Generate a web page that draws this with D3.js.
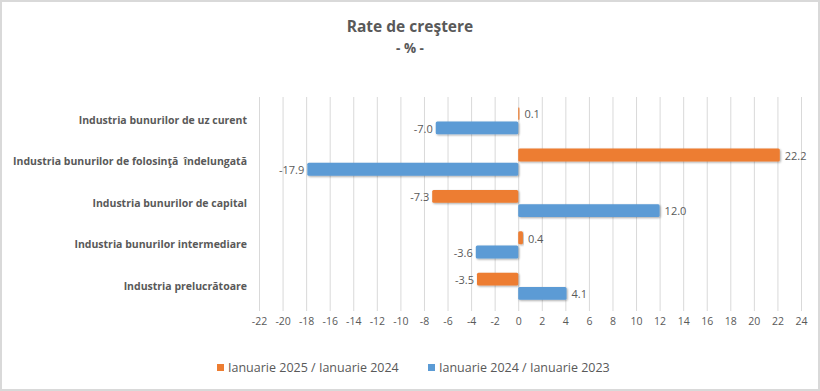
<!DOCTYPE html>
<html>
<head>
<meta charset="utf-8">
<script src="https://cdn.jsdelivr.net/npm/d3@7"></script>
<style>
  html, body { margin: 0; padding: 0; background: #fff; }
  svg { display: block; }
  text { white-space: pre; }
</style>
</head>
<body>
<svg id="chart" width="820" height="391"></svg>
<script>
const categories = [
  "Industria bunurilor de uz curent",
  "Industria bunurilor de folosinţă  îndelungată",
  "Industria bunurilor de capital",
  "Industria bunurilor intermediare",
  "Industria prelucrătoare"
];
const seriesNames = ["Ianuarie 2025 / Ianuarie 2024", "Ianuarie 2024 / Ianuarie 2023"];
const jan2025 = [0.1, 22.2, -7.3, 0.4, -3.5];
const jan2024 = [-7.0, -17.9, 12.0, -3.6, 4.1];
const xTicks = [-22,-20,-18,-16,-14,-12,-10,-8,-6,-4,-2,0,2,4,6,8,10,12,14,16,18,20,22,24];
const colors = ["#ED7D31", "#5B9BD5"];

const svg = d3.select("#chart");
const textColor = "#595959";
const font = "'Open Sans', sans-serif";
const fmt = v => d3.format(".1f")(v).replace("\u2212", "-");

// border
svg.append("rect").attr("x", 1).attr("y", 1).attr("width", 818).attr("height", 389)
  .attr("fill", "#fff").attr("stroke", "#d9d9d9").attr("stroke-width", 2);

// shadow filter
const defs = svg.append("defs");
const f = defs.append("filter").attr("id", "sh").attr("x", "-10%").attr("y", "-30%").attr("width", "120%").attr("height", "170%");
f.append("feGaussianBlur").attr("in", "SourceAlpha").attr("stdDeviation", 1.2).attr("result", "b");
f.append("feOffset").attr("in", "b").attr("dx", 0.8).attr("dy", 1.2).attr("result", "o");
f.append("feComponentTransfer").attr("in", "o").attr("result", "o2")
  .append("feFuncA").attr("type", "linear").attr("slope", 0.35);
const m = f.append("feMerge");
m.append("feMergeNode").attr("in", "o2");
m.append("feMergeNode").attr("in", "SourceGraphic");

const x = d3.scaleLinear().domain([-22, 24]).range([259, 801]);
const y = d3.scaleBand().domain(categories).range([100, 307]);
const inner = d3.scaleBand().domain([0, 1]).range([0, y.bandwidth()]).paddingInner(0.1).paddingOuter(0.5);

// title
svg.append("text").attr("x", 410).attr("y", 32).attr("text-anchor", "middle")
  .attr("font-family", font).attr("font-weight", "bold").attr("font-size", 15.5)
  .attr("fill", textColor).text("Rate de creştere");
svg.append("text").attr("x", 410).attr("y", 53).attr("text-anchor", "middle")
  .attr("font-family", font).attr("font-weight", "bold").attr("font-size", 13.5)
  .attr("fill", textColor).text("- % -");

// grid
const gridTop = 97, gridBottom = 307;
svg.append("g").selectAll("line").data(xTicks).join("line")
  .attr("x1", d => x(d) + 0.5).attr("x2", d => x(d) + 0.5)
  .attr("y1", gridTop).attr("y2", gridBottom + 4)
  .attr("stroke", "#d9d9d9").attr("stroke-width", 1);

// x axis labels
const xAxis = d3.axisBottom(x).tickValues(xTicks).tickSize(0).tickPadding(0);
const gx = svg.append("g").attr("transform", `translate(0,${gridBottom + 11})`).call(xAxis);
gx.select(".domain").remove();
gx.selectAll("text").attr("font-family", font).attr("font-size", 10.5).attr("fill", textColor)
  .attr("dy", "0.71em").text(d => d < 0 ? "-" + Math.abs(d) : d);

// category labels
const yAxis = d3.axisLeft(y).tickSize(0).tickPadding(0);
const gy = svg.append("g").attr("transform", "translate(247,0)").call(yAxis);
gy.select(".domain").remove();
gy.selectAll("text").attr("font-family", font).attr("font-weight", "bold")
  .attr("font-size", 10.5).attr("fill", textColor);

// bars
const data = [];
categories.forEach((c, i) => {
  data.push({ cat: c, s: 0, v: jan2025[i] });
  data.push({ cat: c, s: 1, v: jan2024[i] });
});
svg.append("g").selectAll("rect").data(data).join("rect")
  .attr("x", d => x(Math.min(0, d.v)))
  .attr("width", d => Math.max(1, Math.abs(x(d.v) - x(0))))
  .attr("y", d => y(d.cat) + inner(d.s))
  .attr("height", inner.bandwidth())
  .attr("rx", 1.5)
  .attr("fill", d => colors[d.s])
  .attr("filter", "url(#sh)");

// value labels
svg.append("g").selectAll("text").data(data).join("text")
  .attr("x", d => d.v < 0 ? x(d.v) - 3 : x(d.v) + 5)
  .attr("y", d => y(d.cat) + inner(d.s) + inner.bandwidth() / 2 + 1)
  .attr("dy", "0.35em")
  .attr("text-anchor", d => d.v < 0 ? "end" : "start")
  .attr("font-family", font).attr("font-size", 11).attr("fill", textColor)
  .text(d => fmt(d.v));

// legend
const legendX = [217, 428];
const lg = svg.append("g");
seriesNames.forEach((n, i) => {
  lg.append("rect").attr("x", legendX[i]).attr("y", 364).attr("width", 7).attr("height", 7).attr("fill", colors[i]);
  lg.append("text").attr("x", legendX[i] + 11).attr("y", 368).attr("dy", "0.35em")
    .attr("font-family", font).attr("font-size", 12.5).attr("fill", textColor).text(n);
});
</script>
</body>
</html>
